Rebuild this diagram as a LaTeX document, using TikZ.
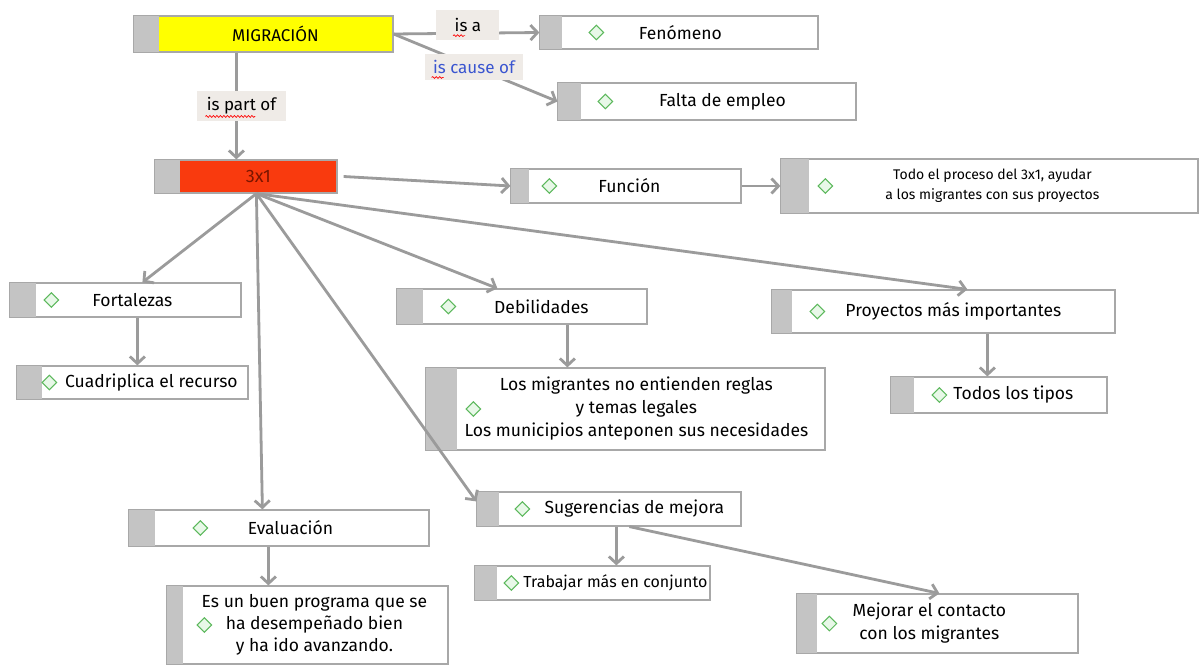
\documentclass[tikz,border=0pt]{standalone}
\usepackage{fontspec}
\setmainfont{Fira Sans}
\usetikzlibrary{arrows.meta,shapes.geometric,fit,decorations.pathmorphing}

\definecolor{linea}{HTML}{9B9B9B}
\definecolor{borde}{HTML}{A8A8A8}
\definecolor{gristira}{HTML}{C4C4C4}
\definecolor{verde}{HTML}{5CB85C}
\definecolor{verdeclaro}{HTML}{E8F8E8}
\definecolor{etiq}{HTML}{EFEBE7}
\definecolor{amarillo}{HTML}{FFFF00}
\definecolor{rojo}{HTML}{F93A0E}
\definecolor{rojotexto}{HTML}{7A1500}
\definecolor{azul}{HTML}{3A55D0}

\tikzset{
  caja/.style={draw=borde, line width=1.2pt, fill=white, inner sep=0pt},
  franja/.style={fill=gristira},
  rombo/.style={diamond, draw=verde, fill=verdeclaro, line width=1pt, minimum size=15pt, inner sep=0pt},
  texto/.style={align=center, font=\fontsize{17.5}{23}\selectfont},
  flecha/.style={draw=linea, line width=2.8pt, -{Straight Barb[length=7pt,width=15pt]}},
  etiqueta/.style={fill=etiq, inner xsep=10pt, minimum height=30pt, font=\fontsize{17}{19}\selectfont},
  onda/.style={draw=red, line width=0.7pt, decorate, decoration={snake, amplitude=0.9pt, segment length=3.5pt}}
}

% caja de concepto: [fuente] nombre, esquinas, franja, rombo, texto x, texto
\newcommand{\concepto}[7][]{%
  \node[caja, fit={#3}] (#2) {};
  \fill[franja] (#2.north west) rectangle ([xshift=#4]#2.south west);
  \draw[draw=borde, line width=1.2pt] (#2.north west) rectangle (#2.south east);
  \node[rombo] (#2-r) at ([xshift=#5]#2.west) {};
  \node[texto,#1] (#2-t) at ([xshift=#6]#2.west) {#7};
}

\begin{document}
\begin{tikzpicture}[x=1pt, y=-1pt]
  \fill[white] (0,0) rectangle (1199,666);
  \useasboundingbox (0,0) rectangle (1199,666);

  % nodos principales
  \node[caja, fill=amarillo, fit={(134,16) (393,52)}] (mig) {};
  \fill[franja] (mig.north west) rectangle ([xshift=26]mig.south west);
  \draw[draw=borde, line width=1.2pt] (mig.north west) rectangle (mig.south east);
  \node[font=\fontsize{17}{19}\selectfont] (mig-t) at ([xshift=142]mig.west) {MIGRACIÓN};

  \node[caja, fill=rojo, fit={(155,160) (337,193)}] (tres) {};
  \fill[franja] (tres.north west) rectangle ([xshift=26]tres.south west);
  \draw[draw=borde, line width=1.2pt] (tres.north west) rectangle (tres.south east);
  \node[font=\fontsize{18}{20}\selectfont, text=rojotexto] (tres-t) at ([xshift=104]tres.west) {3x1};

  % conceptos
  \concepto{fen}{(540,16) (818,49)}{23}{57}{141}{Fenómeno}
  \concepto{falta}{(558,83) (856,120)}{24}{48}{165}{Falta de empleo}
  \concepto{fun}{(511,169) (741,203)}{19}{39}{119}{Función}
  \concepto[font=\fontsize{14}{20}\selectfont]{todo}{(781,159) (1198,213)}{29}{45}{212}{Todo el proceso del 3x1, ayudar\\a los migrantes con sus proyectos}
  \concepto{fort}{(10,283) (241,317)}{27}{42}{123}{Fortalezas}
  \concepto{cuad}{(17,366) (248,399)}{26}{33}{135}{Cuadriplica el recurso}
  \concepto{deb}{(397,289) (647,324)}{27}{52}{145}{Debilidades}
  \concepto{migr}{(426,368) (825,450)}{32}{48}{211}{Los migrantes no entienden reglas\\y temas legales\\Los municipios anteponen sus necesidades}
  \concepto{proy}{(772,290) (1115,333)}{21}{46}{182}{Proyectos más importantes}
  \concepto{todos}{(891,377) (1107,413)}{24}{49}{123}{Todos los tipos}
  \concepto{eva}{(129,510) (429,546)}{27}{72}{162}{Evaluación}
  \concepto[font=\fontsize{17.5}{22}\selectfont]{buen}{(167,586) (448,664)}{17}{38}{148}{Es un buen programa que se\\ha desempeñado bien\\y ha ido avanzando.}
  \concepto{sug}{(477,492) (741,526)}{23}{46}{158}{Sugerencias de mejora}
  \concepto[font=\fontsize{16}{20}\selectfont]{trab}{(475,566) (710,600)}{23}{37}{141}{Trabajar más en conjunto}
  \concepto{mej}{(797,594) (1078,653)}{21}{33}{133}{Mejorar el contacto\\con los migrantes}

  % relaciones con etiqueta
  \draw[flecha] (mig.east) -- (fen.west)
    node[etiqueta, pos=0.51, yshift=8pt, minimum width=63pt] (l-isa) {is a};
  \draw[flecha] (mig.east) -- (falta.west)
    node[etiqueta, pos=0.49, text=azul, minimum height=26pt, inner xsep=8pt] (l-cause) {is cause of};
  \draw[flecha] ([xshift=103]mig.south west) -- ([xshift=82]tres.north west)
    node[etiqueta, midway, xshift=5pt] (l-part) {is part of};
  \draw[onda] ([xshift=18pt,yshift=6pt]l-isa.south west) -- ++(12,0);
  \draw[onda] ([xshift=8pt,yshift=4pt]l-cause.south west) -- ++(12,0);
  \draw[onda] ([xshift=10pt,yshift=6pt]l-part.south west) -- ++(50,0);

  % relaciones del 3x1
  \draw[flecha] ([xshift=6]tres.east) -- (fun.west);
  \draw[flecha] (fun.east) -- (todo.west);
  \draw[flecha] ([xshift=102]tres.south west) -- ([xshift=133]fort.north west);
  \draw[flecha] ([xshift=102]tres.south west) -- ([xshift=134]eva.north west);
  \draw[flecha] ([xshift=102]tres.south west) -- ([yshift=-10]sug.north west);
  \draw[flecha] ([xshift=102]tres.south west) -- ([xshift=101]deb.north west);
  \draw[flecha] ([xshift=102]tres.south west) -- ([xshift=196]proy.north west);

  % hijos
  \draw[flecha] ([xshift=128]fort.south west) -- ([xshift=121]cuad.north west);
  \draw[flecha] ([xshift=171]deb.south west) -- ([xshift=142]migr.north west);
  \draw[flecha] ([xshift=216]proy.south west) -- ([xshift=97]todos.north west);
  \draw[flecha] ([xshift=140]eva.south west) -- ([xshift=102]buen.north west);
  \draw[flecha] ([xshift=140]sug.south west) -- ([xshift=142]trab.north west);
  \draw[flecha] ([xshift=153]sug.south west) -- ([xshift=143]mej.north west);
\end{tikzpicture}
\end{document}
